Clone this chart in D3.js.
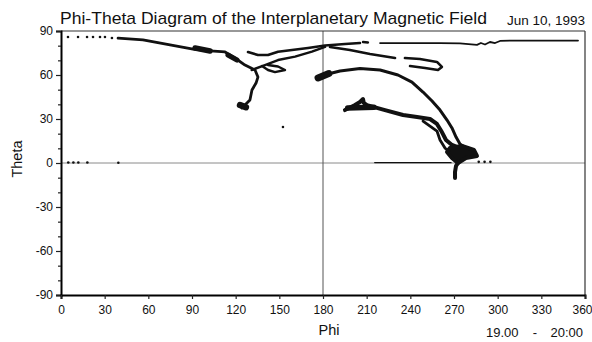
<!DOCTYPE html>
<html>
<head>
<meta charset="utf-8">
<script src="https://cdn.jsdelivr.net/npm/d3@7"></script>
<style>
  html, body { margin: 0; padding: 0; background: #fff; }
  svg { display: block; font-family: "Liberation Sans", Arial, sans-serif; }
</style>
</head>
<body>
<svg id="chart" width="592" height="342"></svg>
<script>
// ---------- data (phi, theta in degrees) ----------
const phiTicks = [0, 30, 60, 90, 120, 150, 180, 210, 240, 270, 300, 330, 360];
const thetaTicks = [-90, -60, -30, 0, 30, 60, 90];
const thetaMinorTicks = [-80, -70, -50, -40, -20, -10, 10, 20, 40, 50, 70, 80];

const dotsTop = [[4.8, 85.9], [11.7, 85.9], [17.9, 85.9], [22.0, 85.9], [26.8, 85.9], [30.2, 85.9], [35.0, 85.2]];
const dotsZero = [[5.0, 0.3], [8.5, 0.3], [11.9, 0.3], [18.1, 0.3], [39.4, 0.2], [287.0, 0.8], [291.0, 0.8], [295.0, 0.8]];
const dotIsolated = [[152.5, 24.5]];

const descent = [[39.2, 85.2], [56.3, 83.9], [74.9, 80.5], [90.7, 77.7], [102.4, 76.4], [112.7, 75.7], [119.5, 71.6],
  [126.4, 66.8], [133.3, 63.4], [135.3, 58.6], [134.0, 54.5], [131.2, 49.8], [129.8, 43.0], [126.4, 39.5], [124.3, 37.5]];
const upperBranch = [[128.5, 75.7], [135.3, 73.6], [142.2, 73.6], [149.1, 75.9], [158.7, 77.0], [169.7, 78.4],
  [181.4, 80.1], [195.1, 81.1], [205.4, 81.8]];
const upperDash = [[207.5, 82.5], [210.9, 82.2]];
const crossBranch = [[131.0, 63.4], [140.1, 66.8], [149.1, 70.2], [160.8, 72.5], [172.4, 75.9], [181.4, 79.1]];
const smallLoop = [[138.1, 66.1], [142.2, 63.4], [147.0, 62.0], [153.9, 63.4], [149.1, 65.8], [142.2, 66.8]];
const armA = [[184.8, 79.1], [198.5, 77.0], [212.3, 74.3], [229.5, 71.6]];
const armB = [[236.3, 71.6], [246.6, 70.9], [258.3, 68.9], [261.7, 65.5], [259.0, 63.4], [250.1, 64.8], [239.8, 66.1]];
const midArc = [[176.6, 58.0], [183.4, 60.7], [191.7, 62.7], [205.4, 64.4], [219.2, 63.4], [231.5, 60.0], [241.1, 55.2],
  [248.7, 48.4], [254.9, 42.3], [260.4, 36.1], [265.2, 29.3], [268.6, 23.9], [271.4, 17.7], [274.1, 13.0], [278.9, 9.5], [283.0, 7.5]];
const lowerArm = [[195.1, 36.1], [202.0, 39.5], [205.4, 41.6], [207.5, 43.6], [208.0, 41.0], [210.2, 39.5], [222.6, 36.1],
  [235.0, 32.7], [244.6, 31.4], [253.5, 30.0], [258.3, 26.6], [261.7, 21.1], [264.5, 15.7], [268.6, 12.3], [274.1, 10.2],
  [279.6, 8.2], [283.7, 6.8], [279.6, 4.8], [274.1, 2.0], [271.4, -2.0], [270.7, -6.1], [270.7, -10.2]];
const lowerStrand = [[248.7, 28.6], [258.3, 21.8], [260.4, 15.7], [263.8, 10.2], [268.6, 6.8], [274.1, 4.8]];
const clusterCore = [[267.2, 10.2], [275.5, 11.6], [283.7, 8.9], [285.8, 4.8], [278.2, 3.4], [272.7, 0.0], [268.6, 3.4], [265.2, 7.5]];
const topRight = [[219.2, 81.8], [260.4, 81.8], [274.1, 81.5], [285.8, 80.5], [288.5, 81.8], [291.3, 80.8], [294.7, 82.5],
  [298.2, 81.8], [301.6, 83.2], [308.5, 83.5], [355.2, 83.5]];
const zeroTrack = [[215.5, 0.3], [268.0, 0.2]];

// thick blobs along the tracks
const blobDescentA = [[92.1, 78.4], [102.4, 76.4]];
const blobDescentB = [[114.7, 73.6], [120.9, 70.2]];
const blobDescentEnd = [[123.0, 39.5], [127.0, 38.0]];
const blobArcStart = [[176.6, 58.0], [184.0, 61.0]];
const blobLowerA = [[197.0, 37.5], [215.0, 38.0]];

// ---------- layout ----------
const svg = d3.select("#chart");
const x = d3.scaleLinear().domain([0, 360]).range([61, 585]);
const y = d3.scaleLinear().domain([-90, 90]).range([295, 31]);
const fmt = d => String(d);

// reference lines
svg.append("line").attr("x1", x(0)).attr("x2", x(360)).attr("y1", y(0)).attr("y2", y(0))
  .attr("stroke", "#8a8a8a").attr("stroke-width", 1);
svg.append("line").attr("x1", x(180)).attr("x2", x(180)).attr("y1", y(90)).attr("y2", y(-90))
  .attr("stroke", "#555").attr("stroke-width", 1);

// frame top / right
svg.append("line").attr("x1", x(0)).attr("x2", x(360)).attr("y1", y(90)).attr("y2", y(90))
  .attr("stroke", "#333").attr("stroke-width", 1.2);
svg.append("line").attr("x1", x(360)).attr("x2", x(360)).attr("y1", y(90)).attr("y2", y(-90))
  .attr("stroke", "#333").attr("stroke-width", 1.2);

// data
const line = d3.line().x(d => x(d[0])).y(d => y(d[1]));
const g = svg.append("g").attr("fill", "none").attr("stroke", "#111")
  .attr("stroke-linejoin", "round").attr("stroke-linecap", "round");

const tracks = [
  [descent, 2.8], [upperBranch, 2.6], [upperDash, 2.4], [crossBranch, 2.4], [smallLoop, 2.4],
  [armA, 2.6], [armB, 2.6], [midArc, 3], [lowerArm, 4], [lowerStrand, 2.8],
  [topRight, 1.8], [zeroTrack, 1.2],
  [blobDescentA, 5.5], [blobDescentB, 5], [blobDescentEnd, 6.5], [blobArcStart, 7], [blobLowerA, 5.5]
];
tracks.forEach(([data, w]) => g.append("path").attr("d", line(data)).attr("stroke-width", w));

svg.append("path").attr("d", line(clusterCore) + "Z").attr("fill", "#111").attr("stroke", "#111")
  .attr("stroke-width", 4).attr("stroke-linejoin", "round");

svg.append("g").selectAll("circle").data(dotsTop.concat(dotsZero, dotIsolated)).join("circle")
  .attr("cx", d => x(d[0])).attr("cy", d => y(d[1])).attr("r", 1.3).attr("fill", "#111");

// axes
const yAxis = svg.append("g").attr("transform", `translate(${x(0)},0)`)
  .call(d3.axisLeft(y).tickValues(thetaTicks).tickSize(5).tickPadding(3).tickFormat(fmt));
const yMinor = svg.append("g").attr("transform", `translate(${x(0)},0)`)
  .call(d3.axisLeft(y).tickValues(thetaMinorTicks).tickSize(3).tickFormat(""));
yMinor.select(".domain").remove();
const xAxis = svg.append("g").attr("transform", `translate(0,${y(-90)})`)
  .call(d3.axisBottom(x).tickValues(phiTicks).tickSize(4).tickPadding(6).tickFormat(fmt));

[yAxis, xAxis].forEach(a => {
  a.select(".domain").attr("stroke", "#000").attr("stroke-width", 2);
  a.selectAll(".tick text").attr("font-size", 12).attr("fill", "#111")
    .attr("font-family", "'Liberation Sans', Arial, sans-serif");
});
// keep the last phi label inside the window
xAxis.selectAll(".tick text").filter(d => d === 360).attr("text-anchor", "end").attr("dx", 7);
svg.selectAll(".tick line").attr("stroke", "#222").attr("stroke-width", 1.2);

// texts
svg.append("text").attr("x", 60).attr("y", 24).attr("font-size", 17)
  .attr("textLength", 427).attr("lengthAdjust", "spacingAndGlyphs").attr("fill", "#111")
  .text("Phi-Theta Diagram of the Interplanetary Magnetic Field");
svg.append("text").attr("x", 585).attr("y", 25).attr("font-size", 13.5).attr("text-anchor", "end").attr("fill", "#111")
  .text("Jun 10, 1993");
svg.append("text").attr("transform", "translate(22,159) rotate(-90)").attr("text-anchor", "middle")
  .attr("font-size", 14.5).attr("fill", "#111").text("Theta");
svg.append("text").attr("x", 329).attr("y", 335).attr("text-anchor", "middle")
  .attr("font-size", 14.5).attr("fill", "#111").text("Phi");
const timeG = svg.append("g").attr("font-size", 13).attr("fill", "#111");
timeG.append("text").attr("x", 486).attr("y", 337).text("19.00");
timeG.append("text").attr("x", 535).attr("y", 337).attr("text-anchor", "middle").text("-");
timeG.append("text").attr("x", 583).attr("y", 337).attr("text-anchor", "end").text("20:00");
</script>
</body>
</html>
